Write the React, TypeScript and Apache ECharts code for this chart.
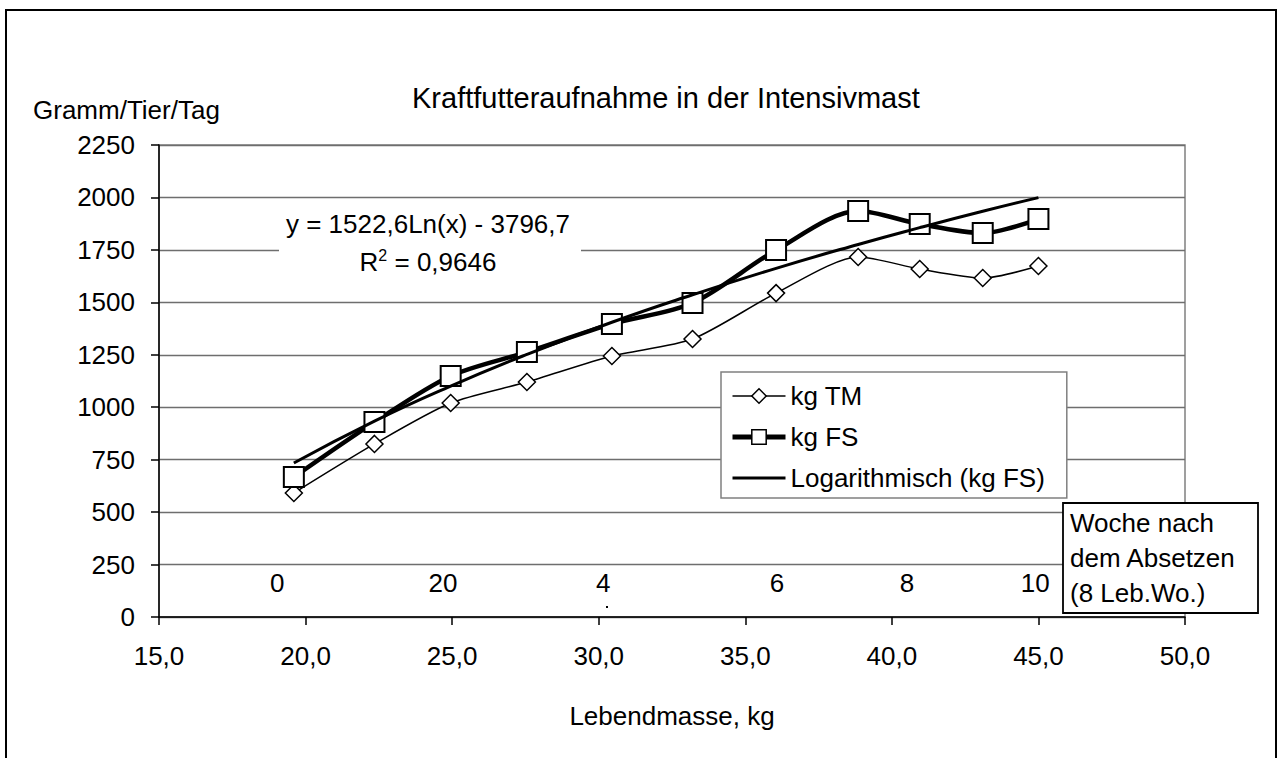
import React, { useEffect, useRef } from "react";
import * as echarts from "echarts";

// Lebendmasse (kg) of each measurement
const xKg = [19.6, 22.35, 24.95, 27.55, 30.45, 33.2, 36.05, 38.85, 40.95, 43.1, 45.0];
// Gramm/Tier/Tag
const kgTM = [591, 825, 1020, 1120, 1244, 1325, 1544, 1716, 1659, 1616, 1673];
const kgFS = [667, 929, 1149, 1263, 1397, 1497, 1749, 1935, 1873, 1830, 1897];
// logarithmic trend (kg FS)
const trendFS = [734, 934, 1101, 1252, 1405, 1536, 1662, 1776, 1856, 1934, 1999];

// week labels inside the plot
const weekX = [19.03, 24.69, 30.15, 36.08, 40.52, 44.89];
const weekLabels = ["0", "20", "4", "6", "8", "10"];
const weekY = 162;

const seriesNames = ["kg TM", "kg FS", "Logarithmisch (kg FS)"];
const titleText = "Kraftfutteraufnahme in der Intensivmast";
const yName = "Gramm/Tier/Tag";
const xName = "Lebendmasse, kg";
const equationText = "y = 1522,6Ln(x) - 3796,7";
const rSquaredText = "0,9646";
const weekBoxLines = ["Woche nach", "dem Absetzen", "(8 Leb.Wo.)"];

const FONT = "'Liberation Sans', Arial, Helvetica, sans-serif";

const pairs = (xs: number[], ys: number[]) => xs.map((x, i) => [x, ys[i]]);

export default function App() {
  const ref = useRef<HTMLDivElement>(null);

  useEffect(() => {
    document.body.style.margin = "0";
    const chart = echarts.init(ref.current!, null, { renderer: "svg" });
    const option: any = {
      animation: false,
      backgroundColor: "#fff",
      textStyle: { fontFamily: FONT, color: "#000" },
      title: {
        text: titleText,
        left: 412,
        top: 83,
        padding: 0,
        textStyle: { fontSize: 29, fontWeight: "normal", color: "#000", fontFamily: FONT },
      },
      grid: {
        left: 159,
        top: 145,
        right: 96,
        bottom: 141,
        show: true,
        borderColor: "#808080",
        borderWidth: 1.5,
        backgroundColor: "transparent",
      },
      legend: {
        data: [
          {
            name: seriesNames[0],
            itemStyle: { color: "#fff", borderColor: "#000", borderWidth: 1.5 },
            lineStyle: { color: "#000", width: 1.5 },
          },
          {
            name: seriesNames[1],
            itemStyle: { color: "#fff", borderColor: "#000", borderWidth: 1.5 },
            lineStyle: { color: "#000", width: 5 },
          },
          {
            name: seriesNames[2],
            itemStyle: { color: "transparent", borderColor: "transparent", borderWidth: 0, opacity: 0 },
            lineStyle: { color: "#000", width: 3 },
          },
        ],
        orient: "vertical",
        left: 721,
        top: 372,
        itemWidth: 53,
        itemHeight: 18,
        itemGap: 15,
        padding: [11, 22, 7, 9],
        backgroundColor: "#fff",
        borderColor: "#808080",
        borderWidth: 1.5,
        borderRadius: 0,
        textStyle: { fontSize: 26, color: "#000", fontFamily: FONT },
        selectedMode: false,
      },
      xAxis: {
        type: "value",
        min: 15,
        max: 50,
        interval: 5,
        name: xName,
        nameLocation: "middle",
        nameGap: 86,
        nameTextStyle: { fontSize: 26, color: "#000", fontFamily: FONT },
        axisLine: { show: true, lineStyle: { color: "#000", width: 1.5 } },
        axisTick: { show: true, inside: false, length: 8, lineStyle: { color: "#000", width: 1.5 } },
        axisLabel: {
          fontSize: 26,
          color: "#000",
          margin: 26,
          fontFamily: FONT,
          formatter: (v: number) => v.toFixed(1).replace(".", ","),
        },
        splitLine: { show: false },
      },
      yAxis: {
        type: "value",
        min: 0,
        max: 2250,
        interval: 250,
        axisLine: { show: true, lineStyle: { color: "#000", width: 1.5 } },
        axisTick: { show: true, inside: false, length: 8, lineStyle: { color: "#000", width: 1.5 } },
        axisLabel: {
          fontSize: 26,
          color: "#000",
          margin: 24,
          fontFamily: FONT,
          formatter: (v: number) => String(v),
        },
        splitLine: { show: true, lineStyle: { color: "#6e6e6e", width: 1.3 } },
      },
      series: [
        {
          name: seriesNames[0],
          type: "line",
          data: pairs(xKg, kgTM),
          smooth: 0.25,
          symbol: "diamond",
          symbolSize: 17,
          itemStyle: { color: "#fff", borderColor: "#000", borderWidth: 1.5 },
          lineStyle: { color: "#000", width: 1.5 },
          z: 2,
        },
        {
          name: seriesNames[1],
          type: "line",
          data: pairs(xKg, kgFS),
          smooth: 0.3,
          symbol: "rect",
          symbolSize: 20,
          itemStyle: { color: "#fff", borderColor: "#000", borderWidth: 2 },
          lineStyle: { color: "#000", width: 4.5 },
          z: 3,
        },
        {
          name: seriesNames[2],
          type: "line",
          data: pairs(xKg, trendFS),
          smooth: true,
          symbol: "none",
          itemStyle: { color: "#000" },
          lineStyle: { color: "#000", width: 3 },
          z: 4,
        },
        {
          name: "Woche",
          type: "scatter",
          data: weekX.map((x, i) => ({ value: [x, weekY], label: { formatter: weekLabels[i] } })),
          symbolSize: 0,
          silent: true,
          itemStyle: { opacity: 1, color: "#000" },
          label: {
            show: true,
            position: "inside",
            fontSize: 26,
            color: "#000",
            opacity: 1,
            fontFamily: FONT,
          },
          z: 5,
        },
      ],
      graphic: [
        {
          type: "rect",
          shape: { x: 6, y: 10, width: 1270, height: 770 },
          style: { fill: "none", stroke: "#000", lineWidth: 2 },
          silent: true,
          z: 100,
        },
        {
          type: "text",
          x: 33,
          y: 110,
          style: {
            text: yName,
            fontSize: 26,
            fontFamily: FONT,
            fill: "#000",
            verticalAlign: "middle",
          },
          z: 100,
        },
        {
          type: "rect",
          shape: { x: 279, y: 205, width: 302, height: 74 },
          style: { fill: "#fff", stroke: "none" },
          z: 100,
        },
        {
          type: "text",
          x: 428,
          y: 224,
          style: {
            text: equationText,
            fontSize: 26,
            fontFamily: FONT,
            fill: "#000",
            align: "center",
            verticalAlign: "middle",
          },
          z: 101,
        },
        {
          type: "text",
          x: 428,
          y: 262,
          style: {
            text: "R{sup|2} = " + rSquaredText,
            fontSize: 26,
            fontFamily: FONT,
            fill: "#000",
            align: "center",
            verticalAlign: "middle",
            rich: {
              sup: { fontSize: 16, fontFamily: FONT, verticalAlign: "top", padding: [0, 0, 14, 0] },
            },
          },
          z: 101,
        },
        {
          type: "rect",
          shape: { x: 606, y: 606, width: 2, height: 2 },
          style: { fill: "#000" },
          z: 100,
        },
        {
          type: "rect",
          shape: { x: 1063, y: 503, width: 195, height: 110 },
          style: { fill: "#fff", stroke: "#000", lineWidth: 1.8 },
          z: 100,
        },
        ...weekBoxLines.map((t, i) => ({
          type: "text",
          x: 1070,
          y: 523 + i * 35,
          style: {
            text: t,
            fontSize: 26,
            fontFamily: FONT,
            fill: "#000",
            verticalAlign: "middle",
          },
          z: 101,
        })),
      ],
    };
    chart.setOption(option);
    return () => chart.dispose();
  }, []);

  return (
    <div
      ref={ref}
      style={{ position: "absolute", left: 0, top: 0, width: 1281, height: 758, background: "#fff" }}
    />
  );
}
